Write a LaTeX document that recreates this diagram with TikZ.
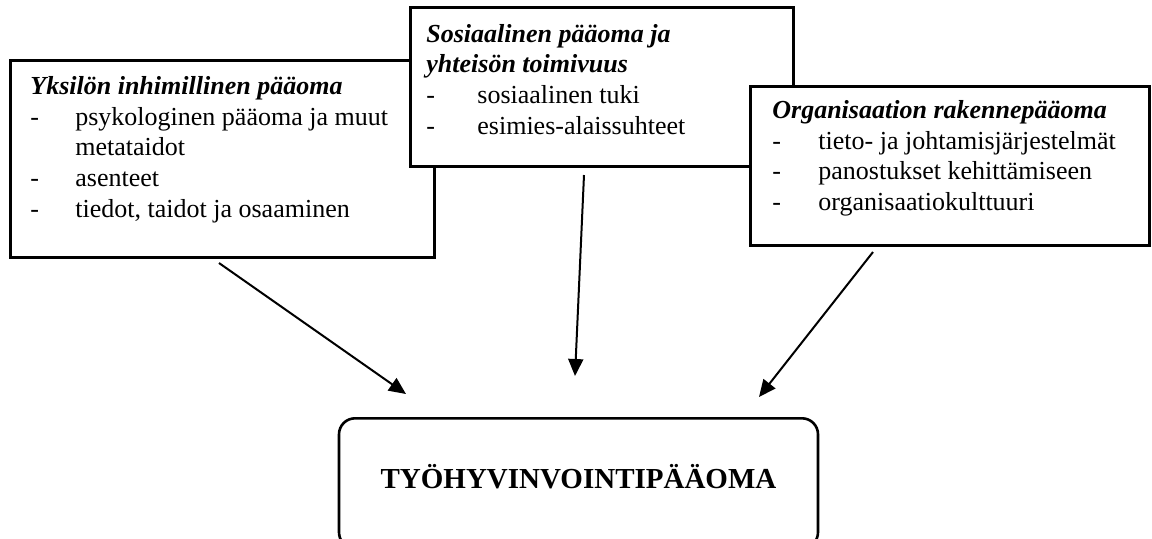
\documentclass[tikz,border=0pt]{standalone}
\usepackage{fontspec}
\setmainfont{Liberation Serif}
\usetikzlibrary{arrows.meta}
\tikzset{
  box/.style={draw, line width=1.3pt, fill=white, anchor=north west, inner sep=0pt},
  txt/.style={anchor=base west, inner sep=0pt, font=\fontsize{13}{15.35}\selectfont},
  arr/.style={line width=1pt, -{Triangle[length=8.5pt,width=7.5pt]}}
}
\begin{document}
\begin{tikzpicture}[x=0.5pt, y=-0.5pt]
  \useasboundingbox (0,0) rectangle (1152,538);
  % three boxes, drawn left to right so each covers the one before
  \node[box, minimum width=212pt, minimum height=98.5pt] (yksilo) at (9,59) {};
  \node[txt] (yksiloteksti) at (30,94.5) {\begin{tabular}[t]{@{}p{22.5pt}@{}l@{}}
    \multicolumn{2}{@{}l@{}}{\textbf{\textit{Yksilön inhimillinen pääoma}}}\\
    - & psykologinen pääoma ja muut\\
      & metataidot\\
    - & asenteet\\
    - & tiedot, taidot ja osaaminen
  \end{tabular}};

  \node[box, minimum width=191.5pt, minimum height=79.5pt] (sosiaal) at (409,6) {};
  \node[txt] (sosiaalteksti) at (426,42) {\begin{tabular}[t]{@{}p{25.5pt}@{}l@{}}
    \multicolumn{2}{@{}l@{}}{\textbf{\textit{Sosiaalinen pääoma ja}}}\\
    \multicolumn{2}{@{}l@{}}{\textbf{\textit{yhteisön toimivuus}}}\\
    - & sosiaalinen tuki\\
    - & esimies-alaissuhteet
  \end{tabular}};

  \node[box, minimum width=199.5pt, minimum height=79.5pt] (organ) at (749,85) {};
  \node[txt] (organteksti) at (772,118.5) {\begin{tabular}[t]{@{}p{23pt}@{}l@{}}
    \multicolumn{2}{@{}l@{}}{\textbf{\textit{Organisaation rakennepääoma}}}\\
    - & tieto- ja johtamisjärjestelmät\\
    - & panostukset kehittämiseen\\
    - & organisaatiokulttuuri
  \end{tabular}};

  % bottom box runs past the lower edge
  \node[draw, line width=1.3pt, rounded corners=8pt, minimum width=239.5pt, minimum height=65pt,
    anchor=north, font=\bfseries\fontsize{14.5}{17}\selectfont,
    text depth=7pt] (tyo) at (578.5,417) {TYÖHYVINVOINTIPÄÄOMA};

  % arrows
  \coordinate (ys) at (219,263);
  \coordinate (ye) at (406,394);
  \coordinate (ss) at (584,175);
  \coordinate (se) at (575,376);
  \coordinate (os) at (873,252);
  \coordinate (oe) at (759,397);
  \draw[arr] (ys) -- (ye);
  \draw[arr] (ss) -- (se);
  \draw[arr] (os) -- (oe);
\end{tikzpicture}
\end{document}
